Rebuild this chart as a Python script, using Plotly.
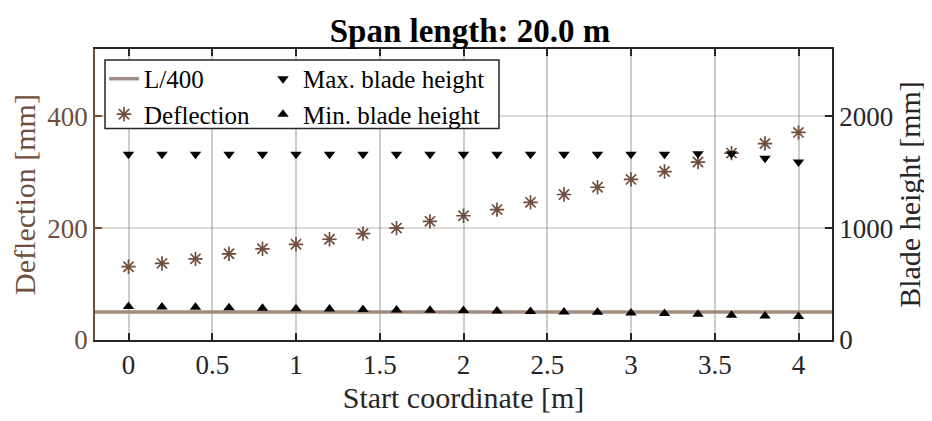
import plotly.graph_objects as go

# ---- data ----
start_coord = [0.0, 0.2, 0.4, 0.6, 0.8, 1.0, 1.2, 1.4, 1.6, 1.8, 2.0,
               2.2, 2.4, 2.6, 2.8, 3.0, 3.2, 3.4, 3.6, 3.8, 4.0]
deflection = [131, 137, 145, 154, 163, 171, 180, 190, 200, 212, 222,
              233, 246, 260, 273, 287, 301, 318, 334, 351, 371]
max_blade = [1660, 1660, 1660, 1660, 1660, 1660, 1660, 1660, 1660, 1660, 1660,
             1660, 1660, 1660, 1660, 1660, 1660, 1665, 1665, 1625, 1590]
min_blade = [300, 295, 292, 288, 284, 280, 277, 273, 269, 266, 263,
             260, 255, 251, 247, 242, 237, 231, 222, 215, 210]
span_length = 20.0
limit_l400 = span_length * 1000 / 400
x_range = [-0.2, 4.2]
x_ticks = [0, 0.5, 1, 1.5, 2, 2.5, 3, 3.5, 4]
y_range = [0, 520]
y_ticks = [0, 200, 400]
y2_range = [0, 2600]
y2_ticks = [0, 1000, 2000]

BROWN = "#6F4E3D"
LINEBROWN = "#A08C81"
DARK = "#262626"
FONT = "Liberation Serif"

fig = go.Figure()
fig.add_trace(go.Scatter(
    x=x_range, y=[limit_l400, limit_l400], mode="lines", name="L/400",
    line=dict(color=LINEBROWN, width=3.5), legend="legend"))
fig.add_trace(go.Scatter(
    x=start_coord, y=deflection, mode="markers", name="Deflection",
    marker=dict(symbol="asterisk-open", size=12, color=BROWN,
                line=dict(color=BROWN, width=1.7)), legend="legend"))
fig.add_trace(go.Scatter(
    x=start_coord, y=max_blade, mode="markers", name="Max. blade height",
    marker=dict(symbol="triangle-down", size=10, color="black"),
    yaxis="y2", legend="legend2"))
fig.add_trace(go.Scatter(
    x=start_coord, y=min_blade, mode="markers", name="Min. blade height",
    marker=dict(symbol="triangle-up", size=10, color="black"),
    yaxis="y2", legend="legend2"))

# page body has an 8px offset; figure is sized to fill the rest of the window
OFF = 8
W, H = 932 - OFF, 421 - OFF
ml, mr, mt, mb = 95 - OFF, 100, 49 - OFF, 79
pw, ph = W - ml - mr, H - mt - mb


def px(xs):
    """screen x -> paper fraction"""
    return (xs - OFF - ml) / pw


def py(ys):
    """screen y -> paper fraction"""
    return (H - mb - (ys - OFF)) / ph


legend_common = dict(
    bgcolor="rgba(0,0,0,0)", borderwidth=0,
    font=dict(family=FONT, size=25, color="black"),
    xanchor="left", yanchor="top", tracegroupgap=0, itemwidth=30,
)

fig.update_layout(
    width=W, height=H,
    margin=dict(l=ml, r=mr, t=mt, b=mb),
    paper_bgcolor="white", plot_bgcolor="white",
    font=dict(family=FONT, size=26, color="black"),
    title=dict(text="<b>Span length: 20.0 m</b>", x=0.5, xanchor="center",
               y=1 - (30 - OFF) / H, yanchor="middle",
               font=dict(family=FONT, size=33, color="black")),
    showlegend=True,
    legend=dict(x=px(104), y=py(56), **legend_common),
    legend2=dict(x=px(263), y=py(56), **legend_common),
    xaxis=dict(
        range=x_range, tickvals=x_ticks, ticktext=[f"{v:g}" for v in x_ticks],
        showgrid=True, gridcolor="rgba(0,0,0,0.2)", gridwidth=1.5,
        zeroline=False, showline=True, linecolor=DARK, linewidth=1.5,
        mirror="ticks", ticks="inside", ticklen=7, tickwidth=1.5,
        tickcolor=DARK,
        tickfont=dict(family=FONT, size=27, color=DARK),
        title=dict(text="Start coordinate [m]", standoff=8,
                   font=dict(family=FONT, size=30, color=DARK)),
    ),
    yaxis=dict(
        range=y_range, tickvals=y_ticks,
        showgrid=True, gridcolor="rgba(111,78,61,0.22)", gridwidth=1.5,
        zeroline=False, showline=True, linecolor=BROWN, linewidth=1.5,
        ticks="inside", ticklen=7, tickwidth=1.5, tickcolor=BROWN,
        tickfont=dict(family=FONT, size=27, color=BROWN),
        title=dict(text="Deflection [mm]", standoff=6,
                   font=dict(family=FONT, size=30, color=BROWN)),
    ),
    yaxis2=dict(
        range=y2_range, tickvals=y2_ticks, overlaying="y", side="right",
        showgrid=False, zeroline=False, showline=True, linecolor=DARK,
        linewidth=1.5, ticks="inside", ticklen=7, tickwidth=1.5,
        tickcolor=DARK,
        tickfont=dict(family=FONT, size=27, color=DARK),
        title=dict(text="Blade height [mm]", standoff=6,
                   font=dict(family=FONT, size=30, color=DARK)),
    ),
    shapes=[dict(type="rect", xref="paper", yref="paper",
                 x0=px(105), x1=px(499), y0=py(129), y1=py(60),
                 fillcolor="white", line=dict(color=DARK, width=1.5),
                 layer="above")],
)

fig.write_html("out.html")
